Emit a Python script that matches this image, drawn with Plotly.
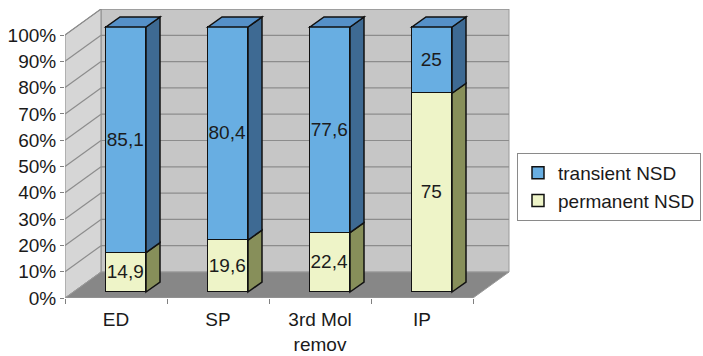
import plotly.graph_objects as go

categories = ["ED", "SP", "3rd Mol<br>remov", "IP"]
permanent = [14.9, 19.6, 22.4, 75]
transient = [85.1, 80.4, 77.6, 25]
y_ticks = list(range(0, 101, 10))
y_tick_text = [f"{t}%" for t in y_ticks]

FONT = "Liberation Sans, Arial, sans-serif"
BLUE_FRONT, BLUE_SIDE, BLUE_TOP = "#68aee2", "#3e6a93", "#5590c8"
YEL_FRONT, YEL_SIDE, YEL_TOP = "#eef4c8", "#878f5a", "#c8cf98"

# pixel geometry helpers
PX_X = 102.0      # px per category
PX_Y = 2.63       # px per % on the front (axis) plane
PX_Y2 = 2.65      # px per % on the bar plane
W_PLOT, H_PLOT = 445, 289
WALL_DX, WALL_DY = 36 / PX_X, 26 / PX_Y      # depth of the 3D box (axis units)
BAR_DX, BAR_DY = 14 / PX_X, 10 / PX_Y2       # depth of each bar
SHIFT_X, SHIFT_Y = 10 / PX_X, 6 / PX_Y2      # bars sit mid-depth
BAR_W = 40 / PX_X

xi = list(range(len(categories)))
x_range = [-0.5, -0.5 + W_PLOT / PX_X]
y_range = [0, H_PLOT / PX_Y]
x2_range = [x_range[0] - SHIFT_X, x_range[1] - SHIFT_X]
y2_range = [-SHIFT_Y, -SHIFT_Y + H_PLOT / PX_Y2]

def fmt(v):
    return f"{v:g}".replace(".", ",")

fig = go.Figure()
for name, vals, col in [("permanent NSD", permanent, YEL_FRONT), ("transient NSD", transient, BLUE_FRONT)]:
    fig.add_trace(go.Bar(
        x=xi, y=vals, name=name, xaxis="x2", yaxis="y2",
        width=BAR_W, marker=dict(color=col, line=dict(color="#111", width=1.5)),
        text=[fmt(v) for v in vals], textposition="inside", insidetextanchor="middle",
        textangle=0, constraintext="none",
        textfont=dict(family=FONT, size=19, color="#1c1c1c"),
        hoverinfo="skip"))

shapes = []
L, R = -0.5, len(categories) - 0.5
def poly(pts, fill, line="#7a7a7a", width=1, ref=("x", "y"), layer="below"):
    path = "M " + " L ".join(f"{a},{b}" for a, b in pts) + " Z"
    shapes.append(dict(type="path", path=path, xref=ref[0], yref=ref[1],
                       fillcolor=fill, line=dict(color=line, width=width), layer=layer))

# walls and floor
poly([(L + WALL_DX, WALL_DY), (R + WALL_DX, WALL_DY), (R + WALL_DX, 100 + WALL_DY), (L + WALL_DX, 100 + WALL_DY)], "#c6c6c6", line="#9a9a9a")
poly([(L, 0), (L + WALL_DX, WALL_DY), (L + WALL_DX, 100 + WALL_DY), (L, 100)], "#d6d6d6", line="#8a8a8a")
for t in y_ticks[1:]:
    shapes.append(dict(type="line", xref="x", yref="y", x0=L + WALL_DX, x1=R + WALL_DX,
                       y0=t + WALL_DY, y1=t + WALL_DY, line=dict(color="#8c8c8c", width=1.2), layer="below"))
    shapes.append(dict(type="line", xref="x", yref="y", x0=L, x1=L + WALL_DX,
                       y0=t, y1=t + WALL_DY, line=dict(color="#8c8c8c", width=1.2), layer="below"))
poly([(L, 0), (R, 0), (R + WALL_DX, WALL_DY), (L + WALL_DX, WALL_DY)], "#878787", line="#9a9a9a")

# bar sides and tops
for i in xi:
    xr = i + BAR_W / 2
    xl = i - BAR_W / 2
    segs = [(0, permanent[i], YEL_SIDE, YEL_TOP), (permanent[i], permanent[i] + transient[i], BLUE_SIDE, BLUE_TOP)]
    for b, t, side, top in segs:
        poly([(xr, b), (xr + BAR_DX, b + BAR_DY), (xr + BAR_DX, t + BAR_DY), (xr, t)], side,
             line="#111", width=1.5, ref=("x2", "y2"), layer="above")
    b, t, side, top = segs[-1]
    poly([(xl, t), (xr, t), (xr + BAR_DX, t + BAR_DY), (xl + BAR_DX, t + BAR_DY)], top,
         line="#111", width=1.5, ref=("x2", "y2"), layer="above")

fig.update_layout(
    width=703, height=356,
    margin=dict(l=65, r=703 - 65 - W_PLOT, t=356 - 58 - H_PLOT, b=58, pad=0, autoexpand=False),
    paper_bgcolor="white", plot_bgcolor="rgba(0,0,0,0)",
    barmode="stack", bargap=0, showlegend=True,
    font=dict(family=FONT, size=19, color="#1a1a1a"),
    shapes=shapes,
    xaxis=dict(range=x_range, tickvals=xi, ticktext=categories, showgrid=False, zeroline=False,
               showline=False, ticks="", ticklabelstandoff=8, automargin=False,
               minor=dict(tickvals=[k - 0.5 for k in range(len(categories) + 1)], ticks="outside",
                          ticklen=5, tickcolor="#808080", showgrid=False),
               tickfont=dict(size=19), fixedrange=True),
    yaxis=dict(range=y_range, tickvals=y_ticks, ticktext=y_tick_text, showgrid=False, zeroline=False,
               showline=False, ticks="outside", ticklen=4, tickcolor="#808080", automargin=False,
               tickfont=dict(size=19), fixedrange=True),
    xaxis2=dict(range=x2_range, overlaying="x", visible=False, fixedrange=True),
    yaxis2=dict(range=y2_range, overlaying="y", visible=False, fixedrange=True),
    legend=dict(xref="container", yref="container", x=517 / 703, y=1 - 153 / 356,
                xanchor="left", yanchor="top",
                bgcolor="white", bordercolor="#8a8a8a", borderwidth=1, traceorder="reversed",
                font=dict(size=19, family=FONT)),
)

fig.write_html("out.html", config={"displayModeBar": False},
               post_script="document.body.style.margin='0';document.body.style.overflow='hidden';")
